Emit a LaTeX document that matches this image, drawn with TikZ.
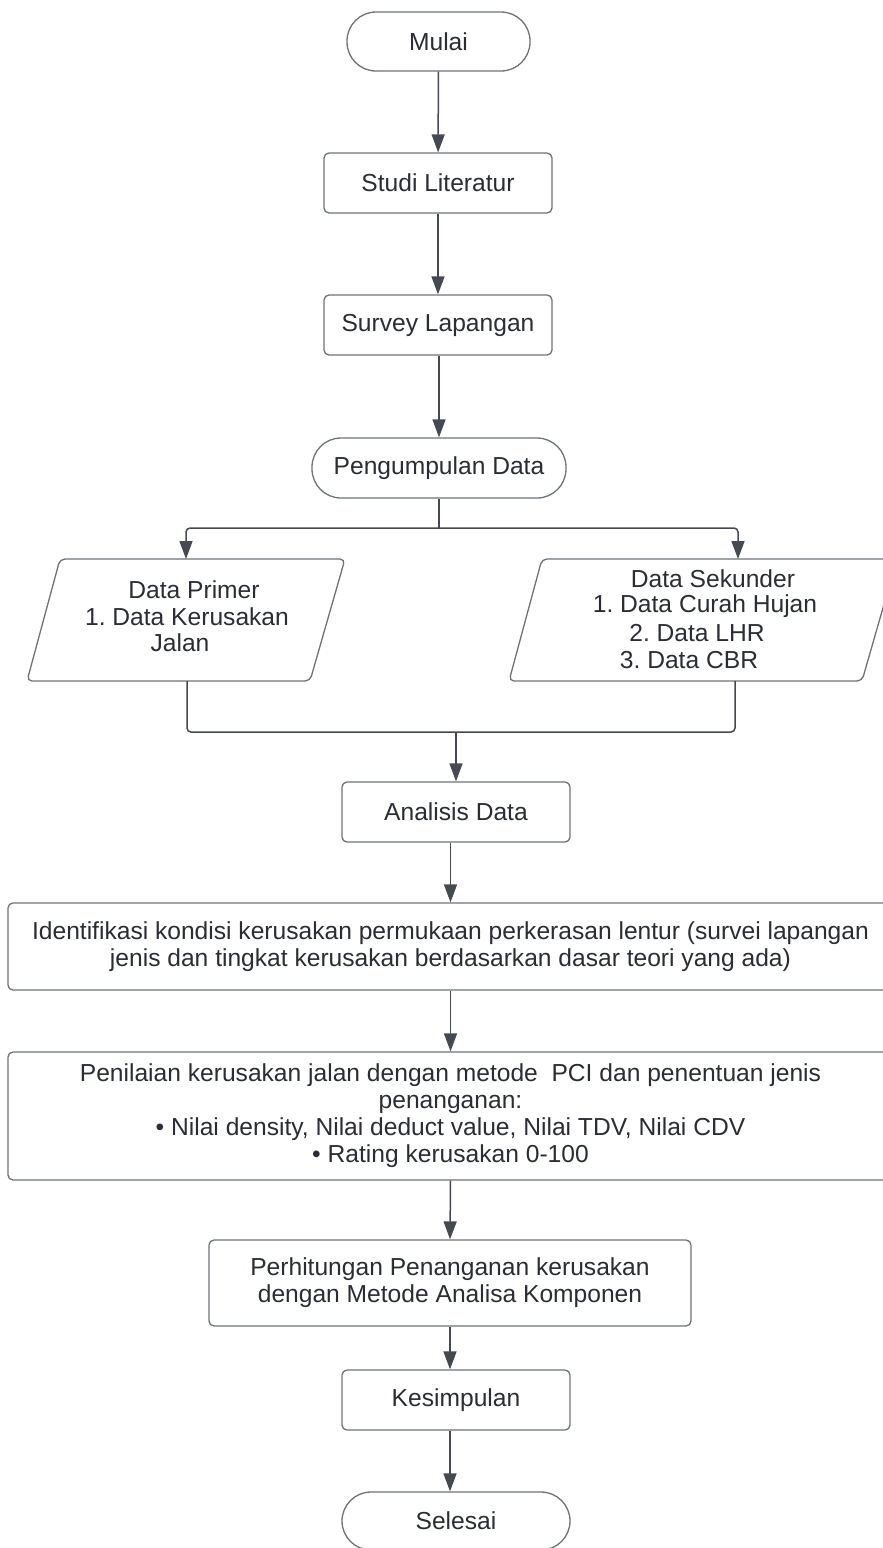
\documentclass[tikz,border=0pt]{standalone}
\usepackage{fontspec}
\setmainfont{Liberation Sans}
\usetikzlibrary{arrows.meta}
\definecolor{lineC}{HTML}{454A52}
\definecolor{boxC}{HTML}{6E7279}
\definecolor{textC}{HTML}{2A2D33}
\frenchspacing
\begin{document}
\begin{tikzpicture}[x=1pt,y=-1pt,
  every node/.style={font=\fontsize{24.6}{27}\selectfont, text=textC},
  box/.style={draw=boxC, line width=1.3pt, rounded corners=5pt, inner sep=0pt, align=center},
  term/.style={box, rounded corners=29pt},
  arr/.style={draw=lineC, line width=1.5pt, -{Triangle[length=18pt,width=13pt]}},
  conn/.style={draw=lineC, line width=1.5pt, rounded corners=4pt},
  para/.style={draw=boxC, line width=1.3pt, rounded corners=5pt}]
\useasboundingbox (0,0) rectangle (883,1548);
\clip (0,0) rectangle (883,1548);
\fill[white] (0,0) rectangle (883,1548);

% nodes
\node[term, minimum width=183, minimum height=59] (mulai) at (438.5,41.5) {Mulai};
\node[box, minimum width=228, minimum height=60] (studi) at (438,183) {Studi Literatur};
\node[box, minimum width=228, minimum height=60] (survey) at (438,325) {Survey Lapangan};
\node[term, minimum width=254, minimum height=60] (pd) at (439,468) {Pengumpulan Data};

% Data Primer parallelogram
\draw[para] (60,559) -- (345,559) -- (310,681) -- (27,681) -- cycle;
\node (dp1) at (194,590) {Data Primer};
\node (dp2) at (187,616.5) {1. Data Kerusakan};
\node (dp3) at (180,643) {Jalan};
% Data Sekunder parallelogram
\draw[para] (542,559) -- (897,559) -- (862,681) -- (509,681) -- cycle;
\node (ds1) at (713,579) {Data Sekunder};
\node (ds2) at (705,606) {1. Data Curah Hujan};
\node (ds3) at (697,633) {2. Data LHR};
\node (ds4) at (689,660) {3. Data CBR};

\coordinate (split) at (439,528);
\coordinate (pTop) at (186,559);
\coordinate (sTop) at (738,559);
\coordinate (pBot) at (187,681);
\coordinate (sBot) at (735,681);
\coordinate (join) at (456,732);

\node[box, minimum width=885, minimum height=87] (ana0) at (450.5,946.5)
  {Identifikasi kondisi kerusakan permukaan perkerasan lentur (survei lapangan\\jenis dan tingkat kerusakan berdasarkan dasar teori yang ada)};
\node[box, minimum width=228, minimum height=60] (ana) at (456,812) {Analisis Data};
\node[box, minimum width=885, minimum height=128] (nilai) at (450.5,1116)
  {Penilaian kerusakan jalan dengan metode\ \ PCI dan penentuan jenis\\penanganan:\\• Nilai density, Nilai deduct value, Nilai TDV, Nilai CDV\\• Rating kerusakan 0-100};
\node[box, minimum width=482, minimum height=86] (hitung) at (450,1283)
  {Perhitungan Penanganan kerusakan\\dengan Metode Analisa Komponen};
\node[box, minimum width=228, minimum height=60] (kes) at (456,1400) {Kesimpulan};
\node[term, minimum width=228, minimum height=58] (selesai) at (456,1521) {Selesai};

% connectors
\draw[arr] (mulai) -- (studi);
\draw[arr] (studi) -- (survey);
\draw[arr] (survey.south -| pd.north) -- (pd.north);
\draw[conn] (pd.south) -- (split);
\draw[arr, rounded corners=4pt] (split) -| (pTop);
\draw[arr, rounded corners=4pt] (split) -| (sTop);
\draw[conn] (pBot) |- (join) -| (sBot);
\draw[arr] (join) -- (ana.north);
\draw[arr] (ana.south -| ana0.north) -- (ana0.north);
\draw[arr] (ana0.south) -- (nilai.north);
\draw[arr] (nilai.south) -- (hitung.north);
\draw[arr] (hitung.south) -- (hitung.south |- kes.north);
\draw[arr] (kes.south -| hitung.south) -- (hitung.south |- selesai.north);
\end{tikzpicture}
\end{document}
